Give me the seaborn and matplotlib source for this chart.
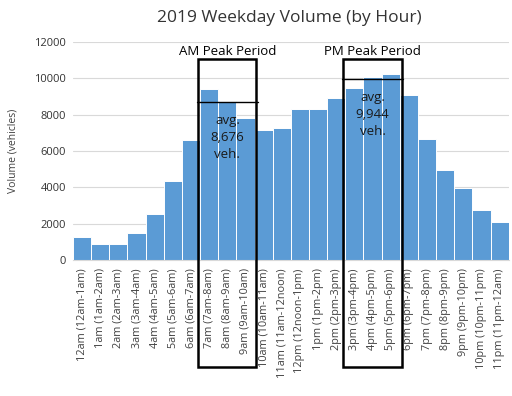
import matplotlib
matplotlib.use('Agg')
import matplotlib.pyplot as plt
import seaborn as sns
import pandas as pd
from matplotlib.patches import Rectangle

# 시간대 라벨
hours = ['12am (12am-1am)', '1am (1am-2am)', '2am (2am-3am)', '3am (3am-4am)',
         '4am (4am-5am)', '5am (5am-6am)', '6am (6am-7am)', '7am (7am-8am)',
         '8am (8am-9am)', '9am (9am-10am)', '10am (10am-11am)', '11am (11am-12noon)',
         '12pm (12noon-1pm)', '1pm (1pm-2pm)', '2pm (2pm-3pm)', '3pm (3pm-4pm)',
         '4pm (4pm-5pm)', '5pm (5pm-6pm)', '6pm (6pm-7pm)', '7pm (7pm-8pm)',
         '8pm (8pm-9pm)', '9pm (9pm-10pm)', '10pm (10pm-11pm)', '11pm (11pm-12am)']

# 시간대별 교통량
volume = [1290, 870, 870, 1480, 2510, 4370, 6600, 9430, 8760, 7820, 7180, 7250,
          8320, 8320, 8930, 9460, 10090, 10260, 9060, 6640, 4960, 3990, 2770, 2070]

# 피크 구간 (시작 인덱스, 끝 인덱스, 라벨, 평균 텍스트, 평균값)
am_peak = (7, 9, 'AM Peak Period', 'avg.\n8,676\nveh.', 8676)
pm_peak = (15, 17, 'PM Peak Period', 'avg.\n9,944\nveh.', 9944)

df = pd.DataFrame({'hour': hours, 'volume': volume})

sns.set_style('white')
plt.rcParams['font.family'] = ['Open Sans', 'DejaVu Sans']

fig = plt.figure(figsize=(5.12, 3.96), dpi=100)
ax = fig.add_axes([0.1426, 0.3434, 0.851, 0.5505])

sns.barplot(data=df, x='hour', y='volume', order=hours, color='#5B9BD5',
            saturation=1, width=1.0, edgecolor='white', linewidth=0.7, ax=ax)

ax.set_ylim(0, 12000)
ax.set_xlim(-0.5, len(hours) - 0.5)
ax.set_yticks(range(0, 12001, 2000))
ax.yaxis.grid(True, color='#d9d9d9', linewidth=0.8)
ax.set_axisbelow(True)
for s in ['top', 'right', 'left']:
    ax.spines[s].set_visible(False)
ax.spines['bottom'].set_color('#d9d9d9')
ax.tick_params(axis='y', labelsize=8, length=0, pad=5, labelcolor='#333333')
ax.tick_params(axis='x', labelsize=7.8, length=0, pad=6, labelcolor='#404040')
plt.setp(ax.get_xticklabels(), rotation=90)
ax.set_xlabel('')
ax.set_ylabel('Volume (vehicles)', fontsize=7.5, color='#404040')
ax.yaxis.set_label_coords(-0.125, 0.5)

fig.suptitle('2019 Weekday Volume (by Hour)', fontsize=12.5, color='#333333', y=0.975, x=0.565)

# 피크 구간 박스와 평균선
for start, end, label, avg_text, avg in [am_peak, pm_peak]:
    x0 = start - 0.63
    x1 = end + 0.6
    rect = Rectangle((x0, -5900), x1 - x0, 11060 + 5900, fill=False,
                     edgecolor='black', linewidth=1.8, clip_on=False, zorder=5)
    ax.add_patch(rect)
    ax.plot([x0 - 0.05, x1 + 0.1], [avg, avg], color='black', linewidth=1.0,
            clip_on=False, zorder=5)
    cx = (start + end) / 2
    ax.text(cx, 11100, label, ha='center', va='bottom', fontsize=9.5, color='black')
    ax.text(cx, avg - 650, avg_text, ha='center', va='top', fontsize=9.5,
            color='#1a1a1a', linespacing=1.4, zorder=6)

plt.savefig('out.png', dpi=100)
